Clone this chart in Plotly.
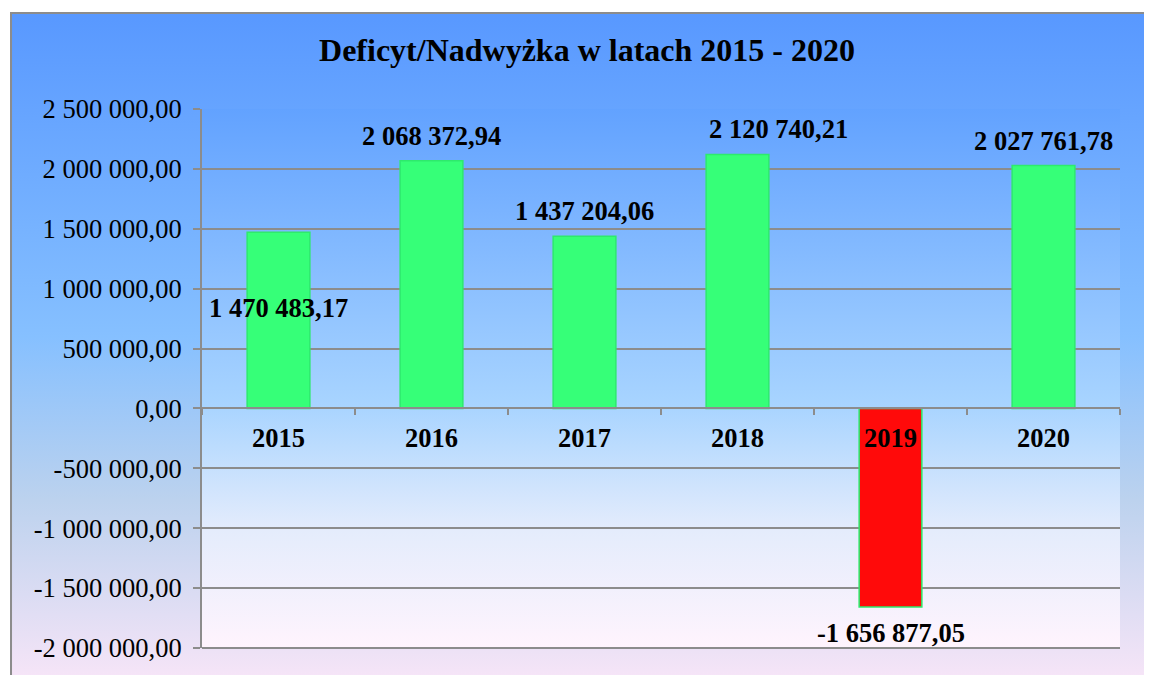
import base64
import plotly.graph_objects as go

# ---- data ----
years = ["2015", "2016", "2017", "2018", "2019", "2020"]
values = [1470483.17, 2068372.94, 1437204.06, 2120740.21, -1656877.05, 2027761.78]
y_ticks = [2500000, 2000000, 1500000, 1000000, 500000, 0, -500000, -1000000, -1500000, -2000000]
title_text = "Deficyt/Nadwyżka w latach 2015 - 2020"


def pl_fmt(v):
    s = f"{v:,.2f}"
    return s.replace(",", " ").replace(".", ",")


FONT = "Liberation Serif, Times New Roman, serif"
GREEN = "#36FF78"
RED = "#FF0A0A"
GRID = "#8C8C8C"
FS = 26.5

# page has an 8px body margin: figure is drawn at (8, 8)
W, H = 1144, 667
L, R, T, B = 194, 32, 101, 27
pw, ph = W - L - R, H - T - B

# outer gradient background (svg)
outer_svg = '''<svg xmlns="http://www.w3.org/2000/svg" width="1142" height="680" viewBox="0 0 1142 680" preserveAspectRatio="none">
<defs><linearGradient id="g" x1="0" y1="0" x2="0" y2="1">
<stop offset="0" stop-color="#5898FF"/>
<stop offset="0.48" stop-color="#86C0FF"/>
<stop offset="0.72" stop-color="#BCD2EE"/>
<stop offset="1" stop-color="#FAE6F8"/>
</linearGradient></defs>
<rect x="0" y="0" width="1142" height="680" fill="url(#g)"/>
<path d="M1 680 L1 1 L1142 1" fill="none" stroke="#8C8C8C" stroke-width="2"/>
</svg>'''
plot_svg = '''<svg xmlns="http://www.w3.org/2000/svg" width="918" height="539" viewBox="0 0 918 539" preserveAspectRatio="none">
<defs><linearGradient id="p" x1="0" y1="0" x2="0" y2="1">
<stop offset="0" stop-color="#62A2FF"/>
<stop offset="0.55" stop-color="#A8D4FF"/>
<stop offset="0.78" stop-color="#E4ECFC"/>
<stop offset="1" stop-color="#FFF4FD"/>
</linearGradient></defs>
<rect x="0" y="0" width="918" height="539" fill="url(#p)"/>
</svg>'''


def uri(svg):
    return "data:image/svg+xml;base64," + base64.b64encode(svg.encode()).decode()


ox0, oy0 = 2, 4
images = [
    dict(source=uri(outer_svg), xref="paper", yref="paper",
         x=(ox0 - L) / pw, y=(H - B - oy0) / ph,
         sizex=(W + 10 - ox0) / pw, sizey=(H + 15 - oy0) / ph,
         xanchor="left", yanchor="top", sizing="stretch", layer="below"),
    dict(source=uri(plot_svg), xref="paper", yref="paper",
         x=0, y=1, sizex=1, sizey=1,
         xanchor="left", yanchor="top", sizing="stretch", layer="below"),
]

colors = [GREEN if v >= 0 else RED for v in values]

fig = go.Figure(go.Bar(
    x=years, y=values,
    marker=dict(color=colors, line=dict(color="#2EEA6C", width=1.5)),
    hoverinfo="skip",
))

# label placement styles
label_mode = ["mid", "out", "out", "out", "out", "out"]
label_xshift = [0, 0, 0, 41, 0, 0]

annotations = []
for i, (v, mode, xs) in enumerate(zip(values, label_mode, label_xshift)):
    if mode == "mid":
        annotations.append(dict(x=i, y=v / 2, text=pl_fmt(v), showarrow=False,
                                yanchor="middle", yshift=12, xshift=xs))
    elif v >= 0:
        annotations.append(dict(x=i, y=v, text=pl_fmt(v), showarrow=False,
                                yanchor="bottom", yshift=8, xshift=xs))
    else:
        annotations.append(dict(x=i, y=v, text=pl_fmt(v), showarrow=False,
                                yanchor="top", yshift=-9, xshift=xs))
for a in annotations:
    a["font"] = dict(family=FONT, size=FS, color="black", weight="bold")

zero_pos = (0 - min(y_ticks)) / (max(y_ticks) - min(y_ticks))

# bottom gridline (plotly skips the one on the axis edge)
shapes = [dict(type="line", xref="paper", x0=0, x1=1, yref="paper",
               y0=0, y1=0, line=dict(color=GRID, width=2), layer="above")]

fig.update_layout(
    width=W, height=H,
    margin=dict(l=L, r=R, t=T, b=B),
    paper_bgcolor="white",
    plot_bgcolor="rgba(0,0,0,0)",
    images=images,
    annotations=annotations,
    shapes=shapes,
    bargap=0.59,
    showlegend=False,
    title=dict(text=title_text, x=(587 - 8) / W, xanchor="center", y=1 - 42 / H, yanchor="middle",
               font=dict(family=FONT, size=32, color="black", weight="bold")),
    font=dict(family=FONT, color="black"),
    xaxis=dict(
        type="category", anchor="free", position=zero_pos,
        range=[-0.5, len(years) - 0.5],
        showline=True, linecolor=GRID, linewidth=2,
        ticks="outside", tickson="boundaries", ticklen=6, tickcolor=GRID, tickwidth=2,
        showgrid=False, ticklabelstandoff=6, tickangle=0,
        tickfont=dict(family=FONT, size=FS, color="black", weight="bold"),
    ),
    yaxis=dict(
        range=[min(y_ticks), max(y_ticks)],
        tickvals=y_ticks, ticktext=[pl_fmt(v) for v in y_ticks],
        showline=True, linecolor=GRID, linewidth=2,
        ticks="outside", ticklen=7, tickcolor=GRID, tickwidth=2,
        showgrid=True, gridcolor=GRID, gridwidth=2,
        zeroline=False,
        tickfont=dict(family=FONT, size=FS, color="black"),
        ticklabelstandoff=6,
    ),
)

fig.write_html("out.html")
